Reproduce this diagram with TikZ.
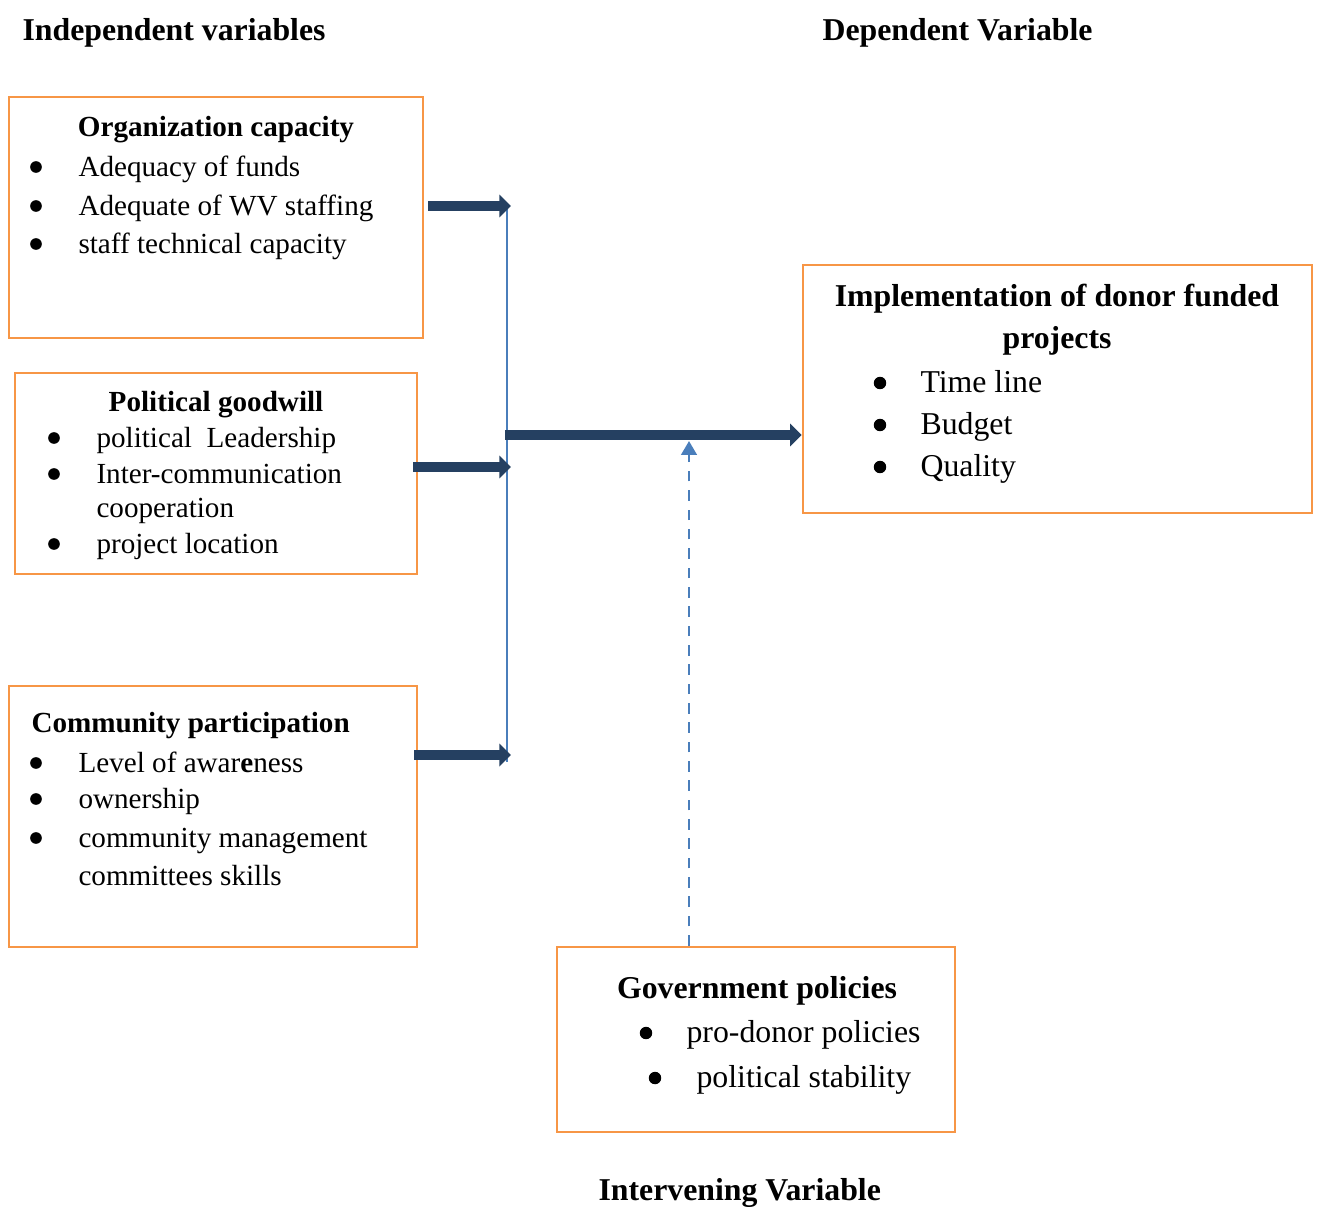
\documentclass[tikz,border=0pt]{standalone}
\usepackage{fontspec}
\setmainfont{Liberation Serif}
\usetikzlibrary{arrows.meta, positioning, fit}
\definecolor{boxorange}{HTML}{F79646}
\definecolor{arrownavy}{HTML}{254061}
\definecolor{linkblue}{HTML}{4A7EBB}

\newcommand{\leftsize}{\fontsize{11}{13}\selectfont}
\newcommand{\rightsize}{\fontsize{12}{14}\selectfont}

\tikzset{
  varbox/.style={draw=boxorange, line width=1pt, inner sep=0pt},
  heading/.style={font=\rightsize\bfseries, inner sep=0pt, anchor=mid west},
  lefttitle/.style={font=\leftsize\bfseries, inner sep=0pt, anchor=mid},
  righttitle/.style={font=\rightsize\bfseries, inner sep=0pt, anchor=mid},
  leftitem/.style={font=\leftsize, inner sep=0pt, anchor=mid west},
  rightitem/.style={font=\rightsize, inner sep=0pt, anchor=mid west},
  leftdot/.style={circle, fill=black, inner sep=0pt, minimum size=4.4pt},
  rightdot/.style={circle, fill=black, inner sep=0pt, minimum size=4.7pt},
  bigarrow/.style={draw=arrownavy, line width=3.6pt, -{Triangle[length=4.4pt, width=8.4pt]}},
  busline/.style={draw=linkblue, line width=0.8pt},
  dashlink/.style={draw=linkblue, line width=1pt, dash pattern=on 4pt off 3.3pt,
    -{Triangle[length=5.2pt, width=5.8pt]}}
}

\begin{document}
\begin{tikzpicture}[x=0.3774pt, y=-0.3774pt]
        \useasboundingbox (0,0) rectangle (1317,1206);

        % Headings
        \node[heading] (indephead) at (22,34) {Independent variables};
        \node[heading] (dephead) at (822,34) {Dependent Variable};
        \node[heading] (intervhead) at (598,1194) {Intervening Variable};

        % Draw the boxes
        \node[varbox, fit={(9,97) (423,338)}] (orgbox) {};
        \node[varbox, fit={(15,373) (417,574)}] (polbox) {};
        \node[varbox, fit={(9,686) (417,947)}] (combox) {};
        \node[varbox, fit={(803,265) (1312,513)}] (implbox) {};
        \node[varbox, fit={(557,947) (955,1132)}] (govbox) {};

        % Organization capacity
        \node[lefttitle] (orgtitle) at (216,130) {Organization capacity};
        \node[leftdot] (orgdot1) at (36,167) {};
        \node[leftdot] (orgdot2) at (36,206) {};
        \node[leftdot] (orgdot3) at (36,244) {};
        \node[leftitem] (orgitem1) at (78,170) {Adequacy of funds};
        \node[leftitem] (orgitem2) at (78,209) {Adequate of WV staffing};
        \node[leftitem] (orgitem3) at (78,247) {staff technical capacity};

        % Political goodwill
        \node[lefttitle] (poltitle) at (216,405) {Political goodwill};
        \node[leftdot] (poldot1) at (54,438) {};
        \node[leftdot] (poldot2) at (54,474) {};
        \node[leftdot] (poldot3) at (54,544) {};
        \node[leftitem] (politem1) at (96,441) {political \ Leadership};
        \node[leftitem] (politem2) at (96,477) {Inter-communication};
        \node[leftitem] (politem2b) at (96,511) {cooperation};
        \node[leftitem] (politem3) at (96,547) {project location};

        % Community participation
        \node[lefttitle, anchor=mid west] (comtitle) at (31,726) {Community participation};
        \node[leftdot] (comdot1) at (36,763) {};
        \node[leftdot] (comdot2) at (36,799) {};
        \node[leftdot] (comdot3) at (36,838) {};
        \node[leftitem] (comitem1) at (78,766) {Level of awar\textbf{e}ness};
        \node[leftitem] (comitem2) at (78,802) {ownership};
        \node[leftitem] (comitem3) at (78,841) {community management};
        \node[leftitem] (comitem3b) at (78,879) {committees skills};

        % Implementation of donor funded projects
        \node[righttitle] (impltitle1) at (1057,300) {Implementation of donor funded};
        \node[righttitle] (impltitle2) at (1057,342) {projects};
        \node[rightdot] (impldot1) at (880,383) {};
        \node[rightdot] (impldot2) at (880,425) {};
        \node[rightdot] (impldot3) at (880,467) {};
        \node[rightitem] (implitem1) at (920,386) {Time line};
        \node[rightitem] (implitem2) at (920,428) {Budget};
        \node[rightitem] (implitem3) at (920,470) {Quality};

        % Government policies
        \node[righttitle] (govtitle) at (757,992) {Government policies};
        \node[rightdot] (govdot1) at (646,1033) {};
        \node[rightdot] (govdot2) at (655,1078) {};
        \node[rightitem] (govitem1) at (686,1036) {pro-donor policies};
        \node[rightitem] (govitem2) at (696,1081) {political stability};

        % Junction points
        \coordinate (orgjoin) at (511,206);
        \coordinate (poljoin) at (511,467);
        \coordinate (comjoin) at (511,755);
        \coordinate (bustop) at (507,206);
        \coordinate (busbottom) at (507,762);
        \coordinate (bus) at (505,435);
        \coordinate (dashtip) at (689,441);

        % Connectors
        \draw[busline] (bustop) -- (busbottom);
        \draw[bigarrow] ([xshift=1.5pt]orgbox.east |- orgjoin) -- (orgjoin);
        \draw[bigarrow] ([xshift=-2pt]polbox.east |- poljoin) -- (poljoin);
        \draw[bigarrow] ([xshift=-1.5pt]combox.east |- comjoin) -- (comjoin);
        \draw[bigarrow] (bus) -- (bus -| implbox.west);
        \draw[dashlink] (dashtip |- govbox.north) -- (dashtip);
    \end{tikzpicture}
\end{document}
